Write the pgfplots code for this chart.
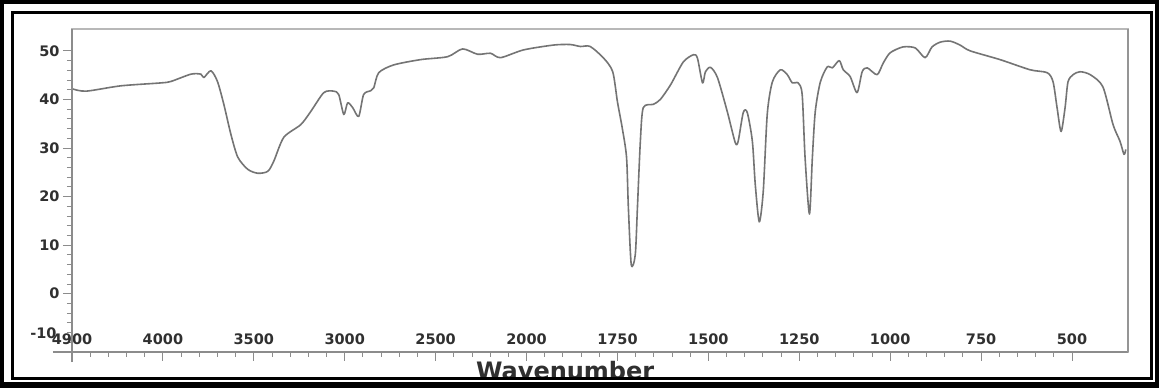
\documentclass[border=0pt]{standalone}
\usepackage{fontspec}
\setmainfont{DejaVu Sans}
\usepackage{pgfplots}
\pgfplotsset{compat=1.18}
\definecolor{curve}{HTML}{747474}
\definecolor{axg}{HTML}{8C8C8C}
\definecolor{boxg}{HTML}{B8B8B8}
\definecolor{lab}{HTML}{303030}
\begin{document}
\begin{tikzpicture}[x=1pt,y=1pt]
\fill[black] (0,0) rectangle (1159,388);
\fill[white] (4,6) rectangle (1155,384);
\begin{axis}[
  at={(72pt,36pt)}, anchor=south west,
  scale only axis, width=1056pt, height=323pt,
  x coord trafo/.code={\pgfmathparse{(#1>2000)?((4500-#1)/500):(5+(2000-#1)/250)}},
  xmin=4500, xmax=346, ymin=-12, ymax=54.5,
  xtick={4500,4000,3500,3000,2500,2000,1750,1500,1250,1000,750,500},
  xticklabels={4900,4000,3500,3000,2500,2000,1750,1500,1250,1000,750,500},
  minor x tick num=4,
  ytick={-10,0,10,20,30,40,50},
  yticklabels={\raisebox{19pt}{-10\kern3pt},0,10,20,30,40,50},
  minor y tick num=4,
  tick pos=left,
  tick align=outside,
  major tick length=9pt, minor tick length=5pt,
  tick style={draw=axg, line width=0.9pt},
  axis line style={draw=boxg, line width=1.4pt},
  clip mode=individual,
  ticklabel style={font=\bfseries\fontsize{14.5}{14.5}\selectfont, text=lab},
  xticklabel style={anchor=base, yshift=16pt},
  xlabel={Wavenumber},
  xlabel style={at={(axis description cs:0.467,0)}, anchor=base, yshift=-27.5pt,
     font=\bfseries\fontsize{24}{24}\selectfont, text=lab},
]
\addplot[curve, line width=1.6pt, line join=round, smooth, tension=0.45] coordinates {
(4500,42.2) (4423,41.7) (4231,42.8) (4011,43.4) (3956,43.7) (3846,45.2)
(3791,45.2) (3775,44.5) (3736,45.9) (3700,43.7) (3665,39.0) (3626,32.8)
(3588,28.1) (3533,25.6) (3478,24.8) (3423,25.2) (3390,27.3) (3335,32.2)
(3242,34.8) (3187,37.5) (3115,41.4) (3060,41.7) (3033,41.0) (3005,36.9)
(2984,39.3) (2956,38.3) (2923,36.5) (2896,41.0) (2857,41.8) (2840,42.4)
(2813,45.5) (2731,47.1) (2582,48.2) (2434,48.8) (2352,50.4) (2269,49.3)
(2198,49.5) (2143,48.6) (2016,50.2) (1925,51.2) (1880,51.3) (1852,50.9)
(1825,50.9) (1788,48.5) (1763,45.7) (1750,39.5) (1737,34.2) (1725,28.1)
(1720,17.8) (1712,6.0) (1701,8.0) (1695,17.8) (1687,31.4) (1679,38.3)
(1651,39.0) (1632,40.0) (1604,43.0) (1569,47.7) (1541,49.2) (1530,48.5)
(1516,43.4) (1508,45.7) (1494,46.6) (1475,44.5) (1448,37.5) (1426,31.1)
(1418,31.4) (1404,37.3) (1393,37.3) (1379,31.4) (1371,22.5) (1360,14.8)
(1349,21.1) (1338,37.0) (1324,43.6) (1302,46.1) (1283,45.1) (1269,43.4)
(1253,43.4) (1242,41.0) (1234,28.0) (1222,16.4) (1214,28.0) (1206,37.5)
(1192,43.6) (1173,46.7) (1159,46.5) (1140,48.0) (1129,46.1) (1110,44.7)
(1091,41.4) (1077,45.7) (1063,46.5) (1036,45.1) (1019,47.5) (1000,49.6)
(965,50.8) (931,50.6) (904,48.6) (885,50.8) (862,51.8) (835,52.0)
(808,51.2) (780,50.0) (698,48.2) (615,46.1) (568,45.5) (552,43.6)
(541,38.3) (530,33.4) (519,38.3) (511,43.6) (497,45.1) (478,45.7)
(450,45.1) (415,42.6) (387,34.8) (368,31.4) (357,28.7) (352,29.7)
};
\draw[axg, line width=1.3pt] ([xshift=-19pt]rel axis cs:0,0) -- (rel axis cs:1,0);
\draw[axg, line width=1.3pt] ([yshift=-10pt]rel axis cs:0,0) -- (rel axis cs:0,1);
\draw[axg!80!boxg, line width=1.3pt] (rel axis cs:1,0) -- (rel axis cs:1,1);
\end{axis}
\draw[black, line width=3pt] (12.5,9.5) rectangle (1151.5,375.5);
\end{tikzpicture}
\end{document}
